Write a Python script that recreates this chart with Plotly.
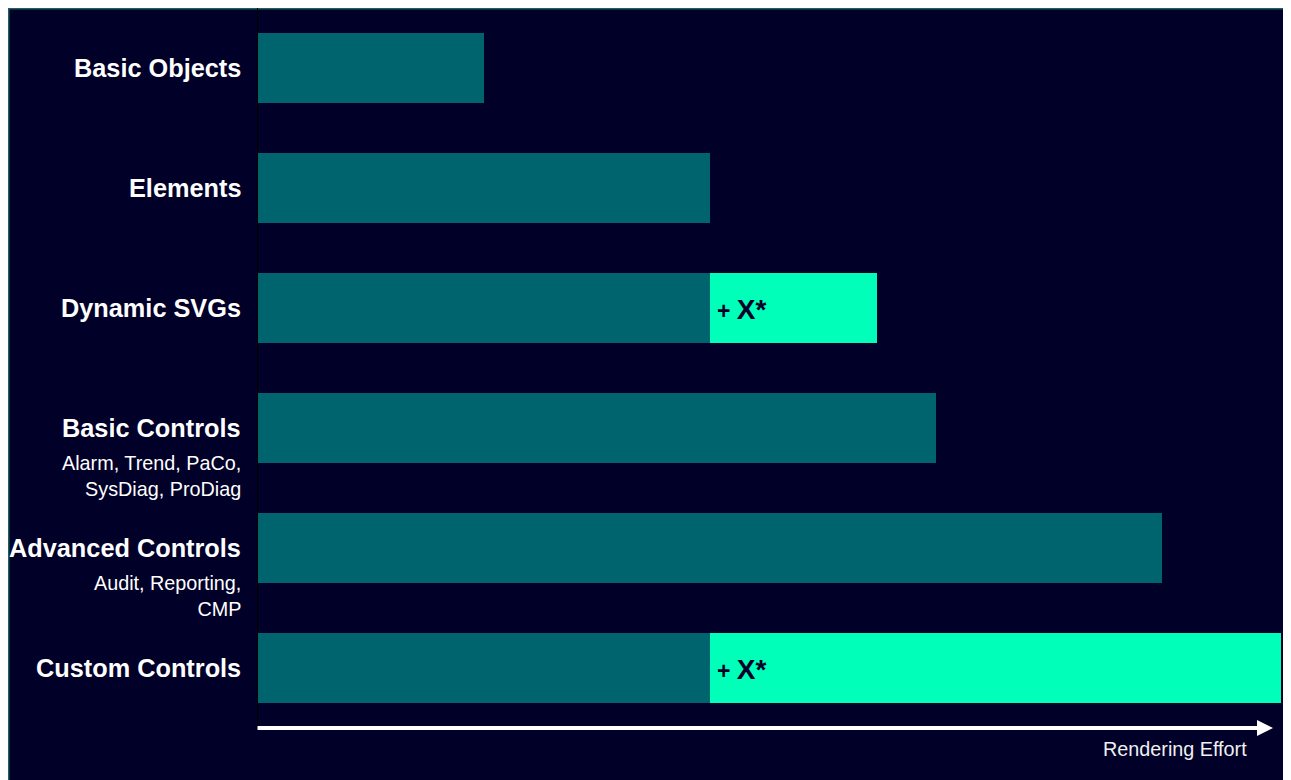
import plotly.graph_objects as go

categories = ["Basic Objects", "Elements", "Dynamic SVGs", "Basic Controls", "Advanced Controls", "Custom Controls"]
sub_labels = ["", "", "", "Alarm, Trend, PaCo,<br>SysDiag, ProDiag", "Audit, Reporting,<br>CMP", ""]
base_effort = [1, 2, 2, 3, 4, 2]
extra_effort = [0, 0, 0.74, 0, 0, 2.6]
extra_text = ["", "", "X*", "", "", "X*"]
axis_title = "Rendering Effort"

BG = "#000028"
TEAL = "#00646E"
GREEN = "#00FFB9"
FONT = "Arial, 'Liberation Sans', sans-serif"

# plot area in figure pixels
L, R, T, B = 250, 18, 0, 60
W, H = 1291, 780
PW, PH = W - L - R, H - T - B


def px(x):
    return (x - L) / PW


def py(y):
    return (H - B - y) / PH


fig = go.Figure()
fig.add_trace(go.Bar(y=categories, x=base_effort, orientation="h",
                     marker=dict(color=TEAL, line=dict(width=0)), hoverinfo="x+y"))
fig.add_trace(go.Bar(y=categories, x=extra_effort, orientation="h",
                     marker=dict(color=GREEN, line=dict(width=0)), hoverinfo="x+y"))

annotations = []
for cat, sub, b, t in zip(categories, sub_labels, base_effort, extra_text):
    annotations.append(dict(x=0, xref="paper", y=cat, yref="y", xanchor="right", yanchor="middle",
                            xshift=-15, text="<b>%s</b>" % cat, showarrow=False,
                            font=dict(family=FONT, size=25.3, color="white")))
    if sub:
        annotations.append(dict(x=0, xref="paper", y=cat, yref="y", xanchor="right", yanchor="top",
                                xshift=-15, yshift=-22, text=sub, showarrow=False, align="right",
                                font=dict(family=FONT, size=19.8, color="white")))
    if t:
        annotations.append(dict(x=b, xref="x", y=cat, yref="y", xanchor="left", yanchor="middle",
                                xshift=5, yshift=-1,
                                text="<b>+ </b><b><span style='font-size:28px'>%s</span></b>" % t,
                                showarrow=False, font=dict(family=FONT, size=23, color=BG)))

# axis arrow
annotations.append(dict(x=px(1265), xref="paper", y=0, yref="paper", text="",
                        showarrow=True, ax=-1017, ay=0, axref="pixel", ayref="pixel",
                        arrowhead=2, arrowsize=0.8, arrowwidth=4, arrowcolor="white",
                        standoff=0, startstandoff=0))
annotations.append(dict(x=px(1241), xref="paper", y=0, yref="paper", xanchor="right",
                        yanchor="middle", yshift=-21, text=axis_title, showarrow=False,
                        font=dict(family=FONT, size=19.8, color="#F0F0F0")))

fig.update_layout(
    width=W, height=H,
    margin=dict(l=L, r=R, t=T, b=B),
    paper_bgcolor="white", plot_bgcolor=BG,
    barmode="stack", bargap=0.4167, showlegend=False,
    xaxis=dict(range=[0, 4.527], visible=False, fixedrange=True),
    yaxis=dict(range=[5.5, -0.5], showticklabels=False, showgrid=False, zeroline=False,
               showline=True, linecolor="black", linewidth=1, ticks="", fixedrange=True),
    annotations=annotations,
    shapes=[dict(type="rect", xref="paper", yref="paper", layer="below",
                 x0=px(0.5), x1=px(1276), y0=py(800), y1=py(0.5),
                 fillcolor=BG, line=dict(color="#1E5F5F", width=2))],
)

fig.write_html("out.html")
